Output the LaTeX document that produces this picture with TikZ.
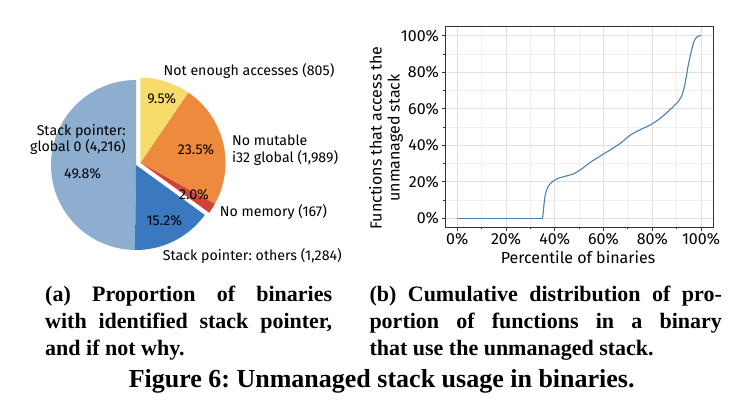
\documentclass[tikz,border=0pt]{standalone}
\usepackage{fontspec}
\setmainfont{Liberation Serif}
\newfontfamily\plotfont{Fira Sans}
\frenchspacing
\definecolor{spglobal}{HTML}{8DAECF}
\definecolor{spothers}{HTML}{3A78BF}
\definecolor{nomemory}{HTML}{D0423B}
\definecolor{nomutable}{HTML}{EE8A3E}
\definecolor{fewaccess}{HTML}{F7DC6B}
\definecolor{cdfblue}{HTML}{4A7FB5}
\definecolor{framegray}{HTML}{333333}
\tikzset{
  pielabel/.style={font=\plotfont\fontsize{14.2}{16.7}\selectfont, inner sep=0pt},
  ticklabel/.style={font=\plotfont\fontsize{16}{18}\selectfont, inner sep=0pt},
  axislabel/.style={font=\plotfont\fontsize{16}{18}\selectfont, inner sep=0pt},
  gridminor/.style={draw=black!6, line width=0.6pt},
  gridmajor/.style={draw=black!12, line width=0.8pt},
  axisline/.style={draw=framegray, line width=0.9pt},
  cdfline/.style={draw=cdfblue, line width=1.1pt, line join=round},
  caption/.style={font=\bfseries\fontsize{22}{27}\selectfont, inner sep=0pt, align=left}
}
\newcommand{\justline}[2]{\hbox to #1{#2}}
\begin{document}
\begin{tikzpicture}[x=1pt, y=1pt]
  \useasboundingbox (0,0) rectangle (746,413);
  % pie chart
  \coordinate (pie) at (136,248);
  \coordinate (pieout) at (140.46,250.27);
  \fill[spglobal] (pie) -- ++(90:85) arc[start angle=90, end angle=269.28, radius=85] -- cycle;
  \fill[spothers] (pie) -- ++(269.28:85) arc[start angle=269.28, end angle=324, radius=85] -- cycle;
  \fill[nomemory] (pieout) -- ++(324:85) arc[start angle=324, end angle=331.2, radius=85] -- cycle;
  \fill[nomutable] (pieout) -- ++(331.2:85) arc[start angle=331.2, end angle=415.8, radius=85] -- cycle;
  \fill[fewaccess] (pieout) -- ++(55.8:85) arc[start angle=55.8, end angle=90, radius=85] -- cycle;

  \node[pielabel] (lfew) at (249,342.3) {Not enough accesses (805)};
  \node[pielabel] (pfew) at (161.7,314) {9.5\%};
  \node[pielabel, align=right, anchor=east] (lglobal) at (126,273.6) {Stack pointer:\\global 0 (4,216)};
  \node[pielabel] (pglobal) at (82.7,239.3) {49.8\%};
  \node[pielabel] (pmutable) at (196,263) {23.5\%};
  \node[pielabel, align=left, anchor=west] (lmutable) at (232,262.8) {No mutable\\i32 global (1,989)};
  \node[pielabel] (pmemory) at (194,218) {2.0\%};
  \node[pielabel, anchor=west] (lmemory) at (219.7,201) {No memory (167)};
  \node[pielabel] (pothers) at (164.3,192) {15.2\%};
  \node[pielabel, anchor=west] (lothers) at (162.7,157) {Stack pointer: others (1,284)};

  % cumulative distribution
  \begin{scope}[shift={(457.3,194.7)}, x=2.437pt, y=1.826pt]
    \foreach \v in {10,30,...,90} {
      \draw[gridminor] (\v,-5) -- (\v,105);
      \draw[gridminor] (-5,\v) -- (105,\v);
    }
    \foreach \v in {0,20,...,100} {
      \draw[gridmajor] (\v,-5) -- (\v,105);
      \draw[gridmajor] (-5,\v) -- (105,\v);
    }
    \draw[axisline] (-5,-5) rectangle (105,105);
    \foreach \v in {10,30,...,90} {
      \draw[axisline] (\v,-5) -- ++(0,-2pt);
      \draw[axisline] (-5,\v) -- ++(-2pt,0);
    }
    \foreach \v in {0,20,...,100} {
      \draw[axisline] (\v,-5) -- ++(0,-3.5pt);
      \draw[axisline] (-5,\v) -- ++(-3.5pt,0);
      \node[ticklabel, anchor=east] (yt\v) at ([xshift=-6pt]-5,\v) {\v\%};
      \node[ticklabel, anchor=north] (xt\v) at ([yshift=-5pt]\v,-5) {\v\%};
    }
    \draw[cdfline] (0,0) -- (35,0);
    \draw[cdfline] plot[smooth, tension=0.5] coordinates {(35,0) (36,12) (37.3,17.5) (39.4,20.4) (41.4,21.9) (44,22.9) (47.6,24.3) (51,27) (54.4,30.5) (60,35.2) (66.8,41) (70.9,45.5) (75,48.5) (79,51) (83.2,54.7) (87.3,59.5) (90.7,64) (92.1,67) (93.4,73.5) (94.8,84) (96.2,92.5) (97.5,98) (99,99.8) (100,100)};
  \end{scope}
  \node[axislabel] (xlab) at (578,155.7) {Percentile of binaries};
  \node[axislabel, rotate=90, align=center] (ylab) at (386,275) {Functions that access the\\unmanaged stack};

  % captions
  \node[caption, anchor=base west] (capa) at (45,58) {\justline{287pt}{(a) Proportion of binaries}\\\justline{287pt}{with identified stack pointer,}\\and if not why.};
  \node[caption, anchor=base west] (capb) at (369.3,58) {\justline{352.4pt}{(b) Cumulative distribution of pro-}\\\justline{352.4pt}{portion of functions in a binary}\\that use the unmanaged stack.};
  \node[caption, font=\bfseries\fontsize{26}{27}\selectfont] (fig) at (381.7,32) {Figure 6: Unmanaged stack usage in binaries.};
\end{tikzpicture}
\end{document}
